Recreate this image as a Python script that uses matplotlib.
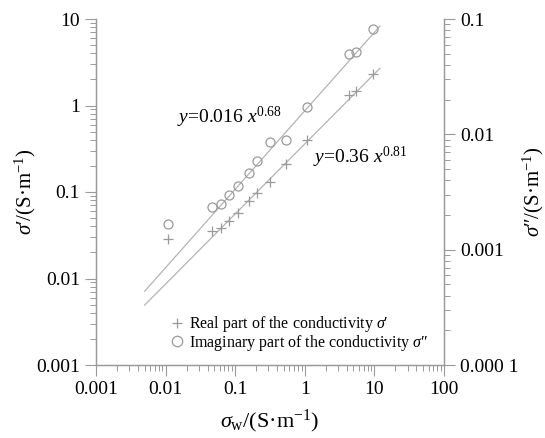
import numpy as np
import matplotlib
matplotlib.use("Agg")
import matplotlib.pyplot as plt
from matplotlib.ticker import LogLocator, FixedLocator, FixedFormatter, NullFormatter
from matplotlib.lines import Line2D

plt.rcParams['font.family'] = ['Liberation Serif', 'DejaVu Serif']
plt.rcParams['mathtext.fontset'] = 'custom'
plt.rcParams['mathtext.rm'] = 'Liberation Serif'
plt.rcParams['mathtext.it'] = 'Liberation Serif:italic'

# pore-water conductivity (S/m)
sigma_w = [0.0107, 0.0465, 0.062, 0.082, 0.109, 0.160, 0.206,
           0.316, 0.537, 1.06, 4.36, 5.44, 9.64]
# real part sigma' (S/m), left axis
sigma_real = [0.0284, 0.0354, 0.0387, 0.0466, 0.0577, 0.0793, 0.098,
              0.130, 0.213, 0.394, 1.31, 1.47, 2.31]
# imaginary part sigma'' (S/m), right axis
sigma_imag = [0.00167, 0.00236, 0.00249, 0.00298, 0.00356, 0.00465, 0.00587,
              0.00857, 0.00893, 0.01725, 0.0494, 0.0518, 0.0814]

# power-law fits
fit_real = (0.36, 0.81)
fit_imag = (0.016, 0.68)
fit_range = (0.005, 12.0)

x_ticks = [0.001, 0.01, 0.1, 1, 10, 100]
x_labels = ['0.001', '0.01', '0.1', '1', '10', '100']
yl_ticks = [0.001, 0.01, 0.1, 1, 10]
yl_labels = ['0.001', '0.01', '0.1', '1', '10']
yr_ticks = [0.0001, 0.001, 0.01, 0.1]
yr_labels = ['0.000 1', '0.001', '0.01', '0.1']

grey = '#9a9a9a'
line_grey = '#b4b4b4'

fig = plt.figure(figsize=(5.45, 4.38), dpi=100)
ax = fig.add_axes([96/545, 73/438, 348/545, 346/438])
ax2 = ax.twinx()

xf = np.geomspace(*fit_range, 50)
ax.plot(xf, fit_real[0] * xf**fit_real[1], color=line_grey, lw=0.9)
ax2.plot(xf, fit_imag[0] * xf**fit_imag[1], color=line_grey, lw=0.9)

ax.plot(sigma_w, sigma_real, '+', color=grey, ms=7, mew=0.9, ls='none')
ax2.plot(sigma_w, sigma_imag, 'o', mfc='none', mec=grey, ms=6.5, mew=0.9, ls='none')

for a in (ax, ax2):
    a.set_xscale('log')
    a.set_yscale('log')
    a.set_xlim(0.001, 100)
    a.spines['top'].set_visible(False)
    for s in a.spines.values():
        s.set_color(grey)
        s.set_linewidth(0.9)
    a.tick_params(which='major', length=8, width=0.8, color=grey,
                  labelsize=14, direction='out')
    a.tick_params(which='minor', length=4, width=0.7, color=grey, direction='out')

ax.set_ylim(0.001, 10)
ax2.set_ylim(0.0001, 0.1)

ax.xaxis.set_major_locator(FixedLocator(x_ticks))
ax.xaxis.set_major_formatter(FixedFormatter(x_labels))
ax.xaxis.set_minor_locator(LogLocator(base=10, subs=np.arange(2, 10), numticks=20))
ax.xaxis.set_minor_formatter(NullFormatter())

ax.yaxis.set_major_locator(FixedLocator(yl_ticks))
ax.yaxis.set_major_formatter(FixedFormatter(yl_labels))
ax.yaxis.set_minor_locator(LogLocator(base=10, subs=np.arange(2, 10), numticks=20))
ax.yaxis.set_minor_formatter(NullFormatter())

ax2.yaxis.set_major_locator(FixedLocator(yr_ticks))
ax2.yaxis.set_major_formatter(FixedFormatter(yr_labels))
ax2.yaxis.set_minor_locator(LogLocator(base=10, subs=np.arange(2, 10), numticks=20))
ax2.yaxis.set_minor_formatter(NullFormatter())

ax.set_xlabel(r"$\sigma_{\mathrm{w}}$/(S·m$^{-1}$)", fontsize=16, labelpad=7)
ax.set_ylabel(r"$\sigma$′/(S·m$^{-1}$)", fontsize=15, labelpad=-1)
ax2.set_ylabel(r"$\sigma$″/(S·m$^{-1}$)", fontsize=15, labelpad=2)

ax.text(0.233, 0.717, r"$y$=0.016 $x^{0.68}$", fontsize=14, ha='left', va='center',
        transform=ax.transAxes)
ax.text(0.624, 0.601, r"$y$=0.36 $x^{0.81}$", fontsize=14, ha='left', va='center',
        transform=ax.transAxes)

handles = [
    Line2D([], [], marker='+', color=grey, ms=7, mew=0.9, ls='none'),
    Line2D([], [], marker='o', mfc='none', mec=grey, ms=7.5, mew=0.9, ls='none'),
]
labels = ["Real part of the conductivity $\\sigma$′",
          "Imaginary part of the conductivity $\\sigma$″"]
ax2.legend(handles, labels, loc='lower left', bbox_to_anchor=(0.205, 0.035),
           frameon=False, fontsize=11.5, handletextpad=0.15, labelspacing=-0.1,
           handlelength=1.2, borderaxespad=0, borderpad=0)

fig.savefig('out.png', dpi=100)
